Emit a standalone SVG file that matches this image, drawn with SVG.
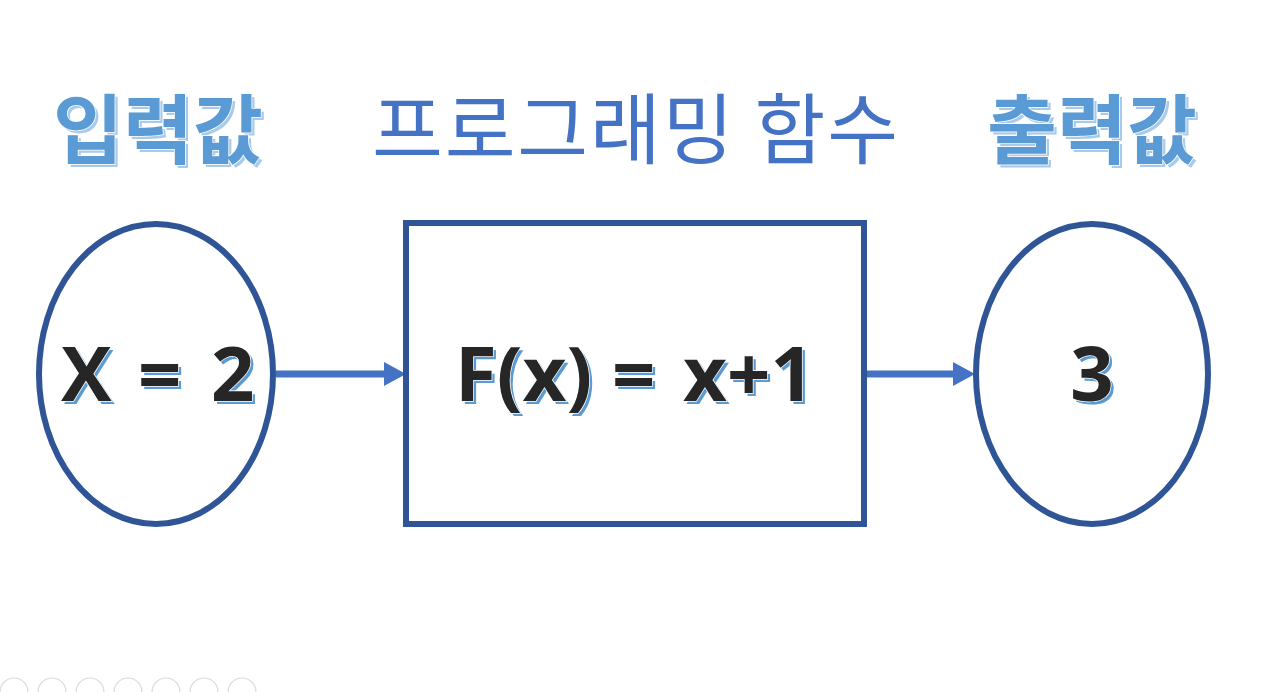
<svg xmlns="http://www.w3.org/2000/svg" width="1269" height="692" viewBox="0 0 1269 692">
<defs>
<style>
.title{font-family:"Noto Sans CJK KR","Noto Sans",sans-serif;text-anchor:middle}
.tb{font-weight:bold;font-size:76px}
.tbm{fill:#5B9BD5;stroke:#fff;stroke-width:1.5;paint-order:stroke}
.tbs{fill:#A9CBEB}
.tr{font-size:77px;fill:#4472C4}
.eq{font-family:"Open Sans","Noto Sans",sans-serif;font-weight:bold;font-size:76px}
.eqm{fill:#262626;stroke:#fff;stroke-width:1.5;paint-order:stroke}
.eqs{fill:#5B9BD5}
.shape{fill:#fff;stroke:#2F5597;stroke-width:6}
.conn{stroke:#4472C4;stroke-width:7;fill:none}
.ctl{fill:none;stroke:#D9D9D9;stroke-width:1.2}
</style>
</defs>
<rect width="1269" height="692" fill="#fff"/>
<g id="title-input">
<text class="title tb tbs" x="161" y="161">입력값</text>
<text class="title tb tbm" x="158" y="158">입력값</text>
</g>
<g id="title-func">
<text class="title tr" x="635" y="158" textLength="526" lengthAdjust="spacing">프로그래밍 함수</text>
</g>
<g id="title-output">
<text class="title tb tbs" x="1095" y="161">출력값</text>
<text class="title tb tbm" x="1092" y="158">출력값</text>
</g>
<g id="connectors">
<line class="conn" x1="276" y1="374" x2="386" y2="374"/>
<polygon points="384,362 406,374 384,386" fill="#4472C4"/>
<line class="conn" x1="867" y1="374" x2="956" y2="374"/>
<polygon points="953,362 975,374 953,386" fill="#4472C4"/>
</g>
<g id="node-input">
<ellipse class="shape" cx="156" cy="374" rx="117" ry="150"/>
<text class="eq eqs" y="404"><tspan x="64">X</tspan><tspan x="141">=</tspan><tspan x="214">2</tspan></text>
<text class="eq eqm" y="401"><tspan x="61">X</tspan><tspan x="138">=</tspan><tspan x="211">2</tspan></text>
</g>
<g id="node-func">
<rect class="shape" x="406" y="223" width="458" height="301"/>
<text class="eq eqs" y="404"><tspan x="458">F(x)</tspan><tspan x="615">=</tspan><tspan x="686">x+1</tspan></text>
<text class="eq eqm" y="401"><tspan x="455">F(x)</tspan><tspan x="612">=</tspan><tspan x="683">x+1</tspan></text>
</g>
<g id="node-output">
<ellipse class="shape" cx="1092" cy="374" rx="116" ry="150"/>
<text class="eq eqs" x="1095" y="404" text-anchor="middle">3</text>
<text class="eq eqm" x="1092" y="401" text-anchor="middle">3</text>
</g>
<g id="controls">
<circle class="ctl" cx="14" cy="692" r="14"/>
<circle class="ctl" cx="52" cy="692" r="14"/>
<circle class="ctl" cx="90" cy="692" r="14"/>
<circle class="ctl" cx="128" cy="692" r="14"/>
<circle class="ctl" cx="166" cy="692" r="14"/>
<circle class="ctl" cx="204" cy="692" r="14"/>
<circle class="ctl" cx="242" cy="692" r="14"/>
</g>
</svg>
